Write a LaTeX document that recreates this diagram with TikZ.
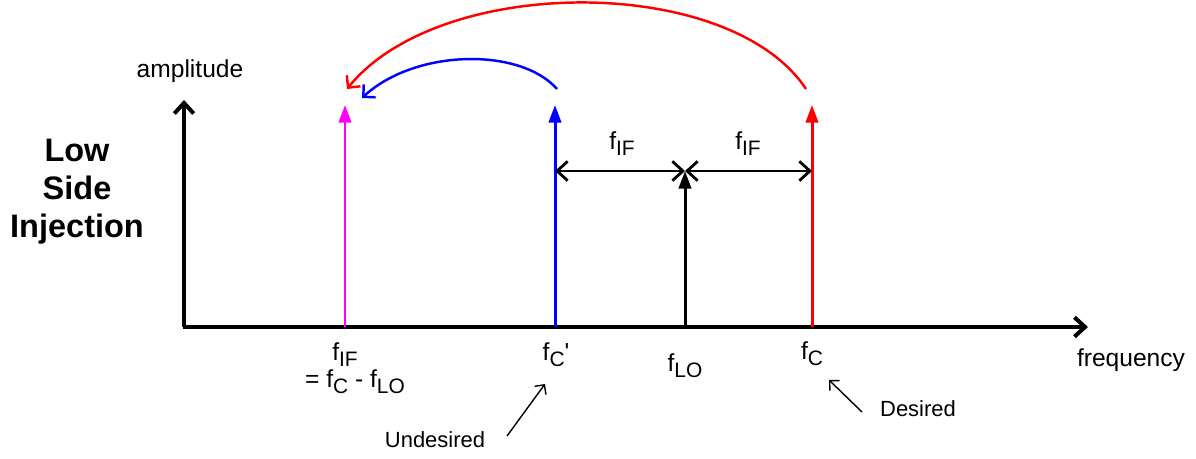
\documentclass[tikz,border=0pt]{standalone}
\usepackage{fontspec}
\setmainfont{Liberation Sans}
\usetikzlibrary{arrows.meta}
\definecolor{ifline}{RGB}{255,0,255}
\newcommand\lowsub[1]{\raisebox{-0.45ex}{\scalebox{0.85}{#1}}}

\begin{document}
\begin{tikzpicture}[x=0.02cm, y=0.02cm,
    >={Straight Barb[length=6pt,width=11pt]},
    spike/.style={line width=1.7pt, -{Triangle[length=10pt,width=7pt]}},
    hop/.style={line width=1.4pt, -{Straight Barb[length=5pt,width=10pt]}},
    pointer/.style={line width=0.8pt, -{Straight Barb[length=4pt,width=8pt]}},
    lbl/.style={font=\fontsize{14}{16}\selectfont, inner sep=1pt, anchor=base}]
    \useasboundingbox (0,0) rectangle (1196,459);

    % Axes
    \coordinate (O) at (184,132);
    \coordinate (xend) at (1088,132);
    \coordinate (yend) at (184,359);
    \draw[line width=2.3pt, ->] (183,132) -- (xend);
    \draw[line width=2.3pt, ->] (O) -- (yend);
    \node[lbl] (amp) at (190,381) {amplitude};
    \node[lbl] (freq) at (1131,92) {frequency};
    \node[font=\fontsize{18.5}{21.5}\selectfont\bfseries, align=center, anchor=north, inner sep=1pt]
        (title) at (77,322) {Low\\Side\\Injection};

    % Spectral lines
    \coordinate (fif) at (345,132);   \coordinate (fif top) at (345,354);
    \coordinate (fci) at (555,132);   \coordinate (fci top) at (555,354);
    \coordinate (flo) at (685,132);   \coordinate (flo top) at (685,288);
    \coordinate (fc) at (812,132);    \coordinate (fc top) at (812,354);
    \draw[spike, ifline] (fif) -- (fif top);
    \draw[spike, blue] (fci) -- (fci top);
    \draw[spike, black] (flo) -- (flo top);
    \draw[spike, red] (fc) -- (fc top);

    % Frequency labels
    \node[lbl] (lfif) at (345,98) {f\lowsub{IF}};
    \node[lbl] (lfifeq) at (355,71) {= f\lowsub{C} - f\lowsub{LO}};
    \node[lbl] (lfci) at (556,98) {f\lowsub{C}\textquotesingle};
    \node[lbl] (lflo) at (685,87) {f\lowsub{LO}};
    \node[lbl] (lfc) at (812,99) {f\lowsub{C}};

    % IF spacing
    \coordinate (dimL) at (555,288);
    \coordinate (dimM) at (685,288);
    \coordinate (dimR) at (812,288);
    \draw[line width=1.6pt, <->] (dimM) -- (dimL);
    \draw[line width=1.6pt, <->] (dimM) -- (dimR);
    \node[lbl] (lif1) at (622,309) {f\lowsub{IF}};
    \node[lbl] (lif2) at (748,309) {f\lowsub{IF}};

    % Mixing down to IF
    \coordinate (rs) at (806,370);  \coordinate (re) at (347,370);
    \coordinate (bs) at (557,370);  \coordinate (be) at (362,361);
    \draw[hop, red] (rs) .. controls (730,485) and (440,485) .. (re);
    \draw[hop, blue] (bs) .. controls (520,412) and (415,410) .. (be);

    % Desired / undesired
    \node[lbl, font=\fontsize{12.5}{15}\selectfont] (des) at (918,42) {Desired};
    \node[lbl, font=\fontsize{12.5}{15}\selectfont] (undes) at (435,11) {Undesired};
    \coordinate (dp1) at (862,47);  \coordinate (dp2) at (829,79);
    \coordinate (up1) at (507,23);  \coordinate (up2) at (545,75);
    \draw[pointer] (dp1) -- (dp2);
    \draw[pointer] (up1) -- (up2);
\end{tikzpicture}
\end{document}
